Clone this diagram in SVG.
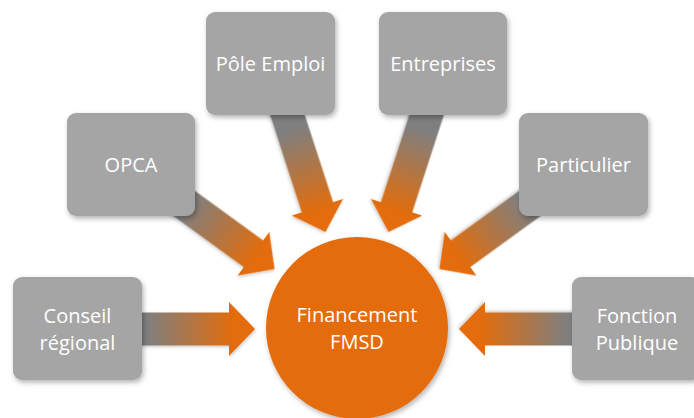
<svg xmlns="http://www.w3.org/2000/svg" width="694" height="418" viewBox="0 0 694 418">
  <defs>
    <linearGradient id="arrowGrad" gradientUnits="userSpaceOnUse" x1="-135" y1="0" x2="0" y2="0">
      <stop offset="0" stop-color="#7f7f7f"/>
      <stop offset="0.2" stop-color="#7f7f7f"/>
      <stop offset="0.85" stop-color="#E46C0A"/>
      <stop offset="1" stop-color="#E46C0A"/>
    </linearGradient>
    <filter id="shadow" x="-20%" y="-20%" width="140%" height="140%">
      <feDropShadow dx="1.5" dy="2.5" stdDeviation="2.5" flood-color="#000" flood-opacity="0.3"/>
    </filter>
    <filter id="ashadow" x="-20%" y="-20%" width="140%" height="140%">
      <feDropShadow dx="1" dy="1.5" stdDeviation="1.5" flood-color="#000" flood-opacity="0.2"/>
    </filter>
    <path id="arrow" d="M0,0 L-26,-27 L-26,-16.5 L-135,-16.5 L-135,16.5 L-26,16.5 L-26,27 Z"/>
  </defs>
  <style>
    .box { fill: #A5A5A5; filter: url(#shadow); }
    .hub { fill: #E46C0A; filter: url(#shadow); }
    .lbl { font-family: "Open Sans", "Liberation Sans", sans-serif; font-size: 20px; fill: #ffffff; text-anchor: middle; }
    .arr { fill: url(#arrowGrad); filter: url(#ashadow); }
  </style>

  <g id="connectors">
    <use href="#arrow" class="arr" transform="translate(357 329) rotate(0) translate(-102 0)"/>
    <use href="#arrow" class="arr" transform="translate(357 329) rotate(36) translate(-102 0)"/>
    <use href="#arrow" class="arr" transform="translate(357 329) rotate(72) translate(-102 0)"/>
    <use href="#arrow" class="arr" transform="translate(357 329) rotate(108) translate(-102 0)"/>
    <use href="#arrow" class="arr" transform="translate(357 329) rotate(144) translate(-102 0)"/>
    <use href="#arrow" class="arr" transform="translate(357 329) rotate(180) translate(-102 0)"/>
  </g>

  <g id="hub">
    <circle class="hub" cx="357" cy="328" r="91"/>
    <text class="lbl" x="357" y="322">Financement</text>
    <text class="lbl" x="357" y="349">FMSD</text>
  </g>

  <g id="conseil-regional">
    <rect class="box" x="13" y="277" width="129" height="103" rx="9"/>
    <text class="lbl" x="77.5" y="323">Conseil</text>
    <text class="lbl" x="77.5" y="350">régional</text>
  </g>

  <g id="opca">
    <rect class="box" x="67" y="113" width="128" height="103" rx="9"/>
    <text class="lbl" x="131" y="172">OPCA</text>
  </g>

  <g id="pole-emploi">
    <rect class="box" x="206" y="12" width="129" height="103" rx="9"/>
    <text class="lbl" x="270.5" y="71">Pôle Emploi</text>
  </g>

  <g id="entreprises">
    <rect class="box" x="379" y="12" width="128" height="103" rx="9"/>
    <text class="lbl" x="443" y="71">Entreprises</text>
  </g>

  <g id="particulier">
    <rect class="box" x="519" y="113" width="129" height="103" rx="9"/>
    <text class="lbl" x="583.5" y="172">Particulier</text>
  </g>

  <g id="fonction-publique">
    <rect class="box" x="572" y="277" width="129" height="103" rx="9"/>
    <text class="lbl" x="637" y="323">Fonction</text>
    <text class="lbl" x="637" y="350">Publique</text>
  </g>
</svg>
